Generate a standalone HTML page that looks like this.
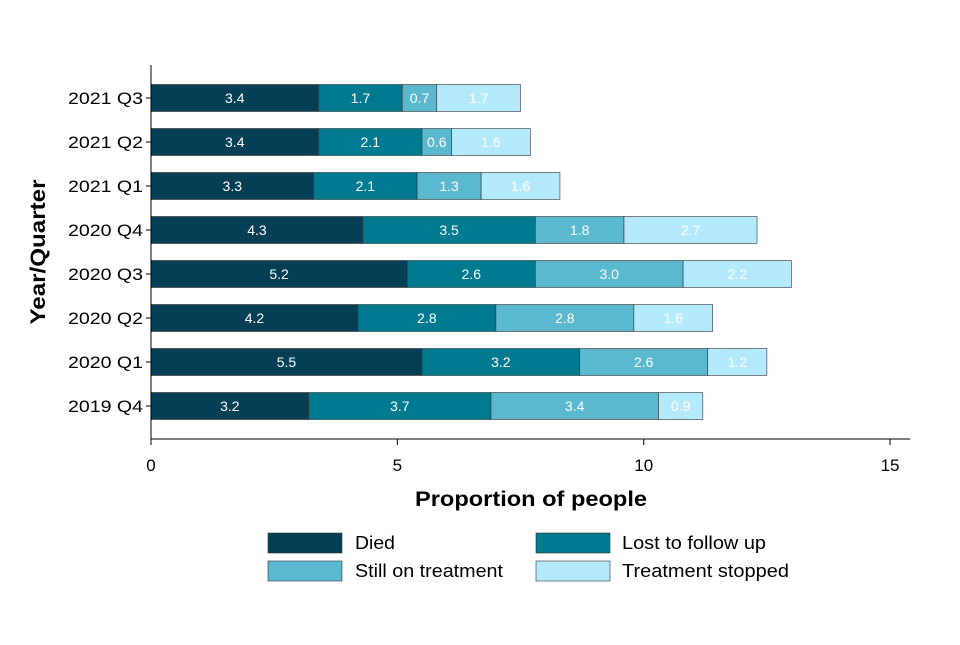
<!DOCTYPE html>
<html><head><meta charset="utf-8"><style>
body{margin:0;background:#fff;font-family:"Liberation Sans",Arial,sans-serif;}
</style></head><body>
<svg width="960" height="640" xmlns="http://www.w3.org/2000/svg" font-family="Liberation Sans, Arial, sans-serif">
<g id="plot"></g>
<text x="531" y="506" text-anchor="middle" font-size="21" font-weight="bold" textLength="232" lengthAdjust="spacingAndGlyphs">Proportion of people</text>
<text transform="translate(45,252) rotate(-90)" text-anchor="middle" font-size="21" font-weight="bold" textLength="145" lengthAdjust="spacingAndGlyphs">Year/Quarter</text>
<g font-size="18">
<g><rect x="268" y="533" width="74" height="20" fill="#053f55" stroke="#333" stroke-width="0.6"/><text x="355" y="549" textLength="40" lengthAdjust="spacingAndGlyphs">Died</text></g>
<g><rect x="536" y="533" width="74" height="20" fill="#007a91" stroke="#333" stroke-width="0.6"/><text x="622" y="549" textLength="144" lengthAdjust="spacingAndGlyphs">Lost to follow up</text></g>
<g><rect x="268" y="561" width="74" height="20" fill="#5ab8cf" stroke="#333" stroke-width="0.6"/><text x="355" y="577" textLength="148" lengthAdjust="spacingAndGlyphs">Still on treatment</text></g>
<g><rect x="536" y="561" width="74" height="20" fill="#b5e9fc" stroke="#333" stroke-width="0.6"/><text x="622" y="577" textLength="167" lengthAdjust="spacingAndGlyphs">Treatment stopped</text></g>
</g>
</svg>
<script>
const categories=["2021 Q3","2021 Q2","2021 Q1","2020 Q4","2020 Q3","2020 Q2","2020 Q1","2019 Q4"];
const died=[3.4,3.4,3.3,4.3,5.2,4.2,5.5,3.2];
const lost=[1.7,2.1,2.1,3.5,2.6,2.8,3.2,3.7];
const still=[0.7,0.6,1.3,1.8,3.0,2.8,2.6,3.4];
const stopped=[1.7,1.6,1.6,2.7,2.2,1.6,1.2,0.9];
const xTicks=[0,5,10,15];
const series=[{n:"died",v:died,c:"#053f55"},{n:"lost",v:lost,c:"#007a91"},{n:"still",v:still,c:"#5ab8cf"},{n:"stopped",v:stopped,c:"#b5e9fc"}];
const NS="http://www.w3.org/2000/svg";
const g=document.getElementById('plot');
const x=v=>151+v*49.27;
const y=i=>98+i*44;
const bh=27;
function mk(t,a){const e=document.createElementNS(NS,t);for(const k in a)e.setAttribute(k,a[k]);g.appendChild(e);return e;}
categories.forEach((c,i)=>{
  let acc=0;
  series.forEach(s=>{
    const v=s.v[i];
    const r=mk('rect',{x:x(acc),y:y(i)-bh/2,width:x(acc+v)-x(acc),height:bh,fill:s.c,stroke:'#333','stroke-width':0.6});
    
    
    const t=mk('text',{x:(x(acc)+x(acc+v))/2,y:y(i)+5,'text-anchor':'middle','font-size':14,fill:'#fff'});
    t.textContent=v.toFixed(1);
    
    
    acc+=v;
  });
  const l=mk('text',{x:143,y:y(i)+6,'text-anchor':'end','font-size':17,textLength:75,lengthAdjust:'spacingAndGlyphs'});
  l.textContent=c;
  
  
  const tk=mk('line',{x1:146,x2:151,y1:y(i),y2:y(i),stroke:'#000'});
  
  
});
const ya=mk('line',{x1:151,x2:151,y1:65,y2:439,stroke:'#000'});


const xa=mk('line',{x1:151,x2:910,y1:439,y2:439,stroke:'#000'});


xTicks.forEach(v=>{
  const tk=mk('line',{x1:x(v),x2:x(v),y1:439,y2:445,stroke:'#000'});
  
  
  const t=mk('text',{x:x(v),y:471,'text-anchor':'middle','font-size':17});
  t.textContent=v;
  
  
});
</script>
</body></html>
